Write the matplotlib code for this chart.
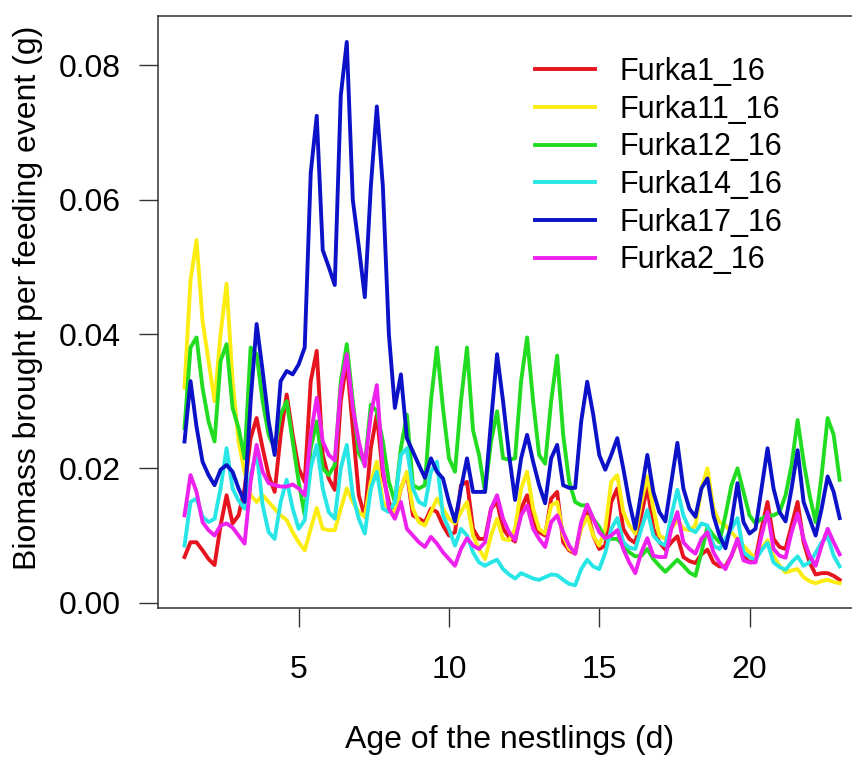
import numpy as np
import matplotlib
matplotlib.use("Agg")
import matplotlib.pyplot as plt

# age of the nestlings (d), one value every 0.2 d
age = np.round(np.arange(1.2, 23.01, 0.2), 1)

furka1 = [0.0068, 0.0090, 0.0090, 0.0078, 0.0065, 0.0056, 0.0115, 0.0160, 0.0118, 0.0130,
          0.0170, 0.0245, 0.0275, 0.0230, 0.0190, 0.0165, 0.0250, 0.0310, 0.0250, 0.0200,
          0.0180, 0.0330, 0.0375, 0.0220, 0.0185, 0.0168, 0.0300, 0.0360, 0.0260, 0.0160,
          0.0128, 0.0230, 0.0280, 0.0190, 0.0150, 0.0130, 0.0170, 0.0193, 0.0130, 0.0125,
          0.0120, 0.0140, 0.0135, 0.0115, 0.0100, 0.0105, 0.0175, 0.0180, 0.0110, 0.0095,
          0.0095, 0.0140, 0.0150, 0.0110, 0.0098, 0.0091, 0.0140, 0.0160, 0.0120, 0.0105,
          0.0100, 0.0155, 0.0165, 0.0090, 0.0078, 0.0073, 0.0115, 0.0138, 0.0100, 0.0080,
          0.0085, 0.0150, 0.0170, 0.0110, 0.0095, 0.0089, 0.0130, 0.0173, 0.0110, 0.0090,
          0.0079, 0.0090, 0.0099, 0.0068, 0.0062, 0.0059, 0.0072, 0.0079, 0.0060, 0.0054,
          0.0054, 0.0070, 0.0093, 0.0070, 0.0060, 0.0065, 0.0110, 0.0150, 0.0095, 0.0083,
          0.0080, 0.0115, 0.0150, 0.0090, 0.0060, 0.0042, 0.0044, 0.0044, 0.0040, 0.0034]

furka11 = [0.0320, 0.0480, 0.0540, 0.0420, 0.0360, 0.0300, 0.0400, 0.0475, 0.0330, 0.0240,
           0.0195, 0.0160, 0.0150, 0.0160, 0.0150, 0.0140, 0.0130, 0.0123, 0.0105, 0.0090,
           0.0078, 0.0110, 0.0141, 0.0110, 0.0108, 0.0108, 0.0140, 0.0170, 0.0150, 0.0135,
           0.0128, 0.0180, 0.0210, 0.0150, 0.0140, 0.0135, 0.0170, 0.0195, 0.0140, 0.0120,
           0.0115, 0.0135, 0.0155, 0.0140, 0.0125, 0.0118, 0.0135, 0.0150, 0.0100, 0.0080,
           0.0065, 0.0100, 0.0125, 0.0095, 0.0093, 0.0110, 0.0170, 0.0195, 0.0140, 0.0110,
           0.0103, 0.0145, 0.0150, 0.0100, 0.0080, 0.0075, 0.0110, 0.0128, 0.0100, 0.0085,
           0.0110, 0.0180, 0.0190, 0.0135, 0.0115, 0.0103, 0.0150, 0.0188, 0.0140, 0.0100,
           0.0095, 0.0110, 0.0123, 0.0110, 0.0108, 0.0115, 0.0170, 0.0200, 0.0140, 0.0120,
           0.0115, 0.0105, 0.0095, 0.0085, 0.0075, 0.0065, 0.0080, 0.0093, 0.0070, 0.0055,
           0.0045, 0.0048, 0.0050, 0.0038, 0.0032, 0.0029, 0.0032, 0.0034, 0.0031, 0.0029]

furka12 = [0.0260, 0.0380, 0.0395, 0.0320, 0.0270, 0.0240, 0.0360, 0.0385, 0.0290, 0.0260,
           0.0215, 0.0380, 0.0370, 0.0300, 0.0250, 0.0230, 0.0280, 0.0300, 0.0240, 0.0180,
           0.0130, 0.0230, 0.0270, 0.0200, 0.0190, 0.0205, 0.0330, 0.0385, 0.0300, 0.0223,
           0.0205, 0.0295, 0.0285, 0.0240, 0.0180, 0.0150, 0.0230, 0.0280, 0.0175, 0.0170,
           0.0175, 0.0300, 0.0380, 0.0290, 0.0215, 0.0195, 0.0300, 0.0380, 0.0257, 0.0220,
           0.0165, 0.0240, 0.0285, 0.0215, 0.0213, 0.0215, 0.0330, 0.0395, 0.0300, 0.0220,
           0.0207, 0.0300, 0.0368, 0.0250, 0.0180, 0.0150, 0.0145, 0.0145, 0.0125, 0.0113,
           0.0095, 0.0095, 0.0095, 0.0085, 0.0075, 0.0069, 0.0070, 0.0080, 0.0065, 0.0055,
           0.0046, 0.0055, 0.0064, 0.0055, 0.0045, 0.0040, 0.0075, 0.0113, 0.0100, 0.0090,
           0.0130, 0.0175, 0.0200, 0.0165, 0.0130, 0.0118, 0.0125, 0.0130, 0.0130, 0.0135,
           0.0160, 0.0205, 0.0272, 0.0210, 0.0160, 0.0120, 0.0190, 0.0275, 0.0250, 0.0183]

furka14 = [0.0085, 0.0150, 0.0155, 0.0128, 0.0120, 0.0125, 0.0170, 0.0230, 0.0170, 0.0152,
           0.0140, 0.0190, 0.0225, 0.0145, 0.0105, 0.0095, 0.0150, 0.0183, 0.0140, 0.0110,
           0.0123, 0.0200, 0.0235, 0.0170, 0.0135, 0.0125, 0.0200, 0.0235, 0.0160, 0.0125,
           0.0103, 0.0170, 0.0195, 0.0140, 0.0135, 0.0150, 0.0220, 0.0230, 0.0170, 0.0150,
           0.0145, 0.0195, 0.0210, 0.0130, 0.0110, 0.0085, 0.0110, 0.0100, 0.0075, 0.0060,
           0.0055, 0.0060, 0.0064, 0.0050, 0.0042, 0.0036, 0.0044, 0.0040, 0.0036, 0.0034,
           0.0038, 0.0042, 0.0041, 0.0034, 0.0028, 0.0026, 0.0050, 0.0064, 0.0054, 0.0050,
           0.0074, 0.0110, 0.0126, 0.0090, 0.0082, 0.0080, 0.0110, 0.0138, 0.0100, 0.0090,
           0.0085, 0.0130, 0.0168, 0.0130, 0.0110, 0.0105, 0.0118, 0.0115, 0.0085, 0.0080,
           0.0095, 0.0110, 0.0126, 0.0075, 0.0068, 0.0064, 0.0078, 0.0089, 0.0060, 0.0053,
           0.0049, 0.0060, 0.0069, 0.0055, 0.0060, 0.0074, 0.0090, 0.0099, 0.0070, 0.0054]

furka17 = [0.0240, 0.0330, 0.0262, 0.0210, 0.0190, 0.0175, 0.0198, 0.0205, 0.0195, 0.0170,
           0.0150, 0.0300, 0.0415, 0.0345, 0.0270, 0.0220, 0.0330, 0.0345, 0.0340, 0.0355,
           0.0380, 0.0640, 0.0725, 0.0525, 0.0500, 0.0473, 0.0755, 0.0835, 0.0600, 0.0530,
           0.0455, 0.0620, 0.0739, 0.0620, 0.0400, 0.0290, 0.0340, 0.0245, 0.0225, 0.0205,
           0.0186, 0.0215, 0.0195, 0.0185, 0.0150, 0.0121, 0.0170, 0.0215, 0.0165, 0.0165,
           0.0165, 0.0270, 0.0370, 0.0300, 0.0220, 0.0153, 0.0215, 0.0250, 0.0210, 0.0175,
           0.0148, 0.0215, 0.0235, 0.0175, 0.0171, 0.0171, 0.0270, 0.0329, 0.0280, 0.0220,
           0.0198, 0.0220, 0.0245, 0.0200, 0.0150, 0.0110, 0.0165, 0.0220, 0.0165, 0.0135,
           0.0121, 0.0180, 0.0238, 0.0170, 0.0140, 0.0128, 0.0170, 0.0185, 0.0130, 0.0100,
           0.0081, 0.0120, 0.0178, 0.0120, 0.0103, 0.0110, 0.0170, 0.0230, 0.0170, 0.0135,
           0.0121, 0.0170, 0.0227, 0.0150, 0.0125, 0.0100, 0.0140, 0.0188, 0.0165, 0.0126]

furka2 = [0.0130, 0.0190, 0.0165, 0.0120, 0.0108, 0.0100, 0.0115, 0.0118, 0.0112, 0.0100,
          0.0088, 0.0180, 0.0235, 0.0195, 0.0178, 0.0175, 0.0173, 0.0173, 0.0176, 0.0170,
          0.0160, 0.0250, 0.0305, 0.0240, 0.0220, 0.0212, 0.0320, 0.0370, 0.0290, 0.0240,
          0.0203, 0.0280, 0.0324, 0.0200, 0.0140, 0.0125, 0.0150, 0.0110, 0.0100, 0.0090,
          0.0083, 0.0098, 0.0088, 0.0075, 0.0065, 0.0055, 0.0080, 0.0096, 0.0085, 0.0080,
          0.0090, 0.0140, 0.0160, 0.0125, 0.0105, 0.0093, 0.0130, 0.0145, 0.0110, 0.0095,
          0.0083, 0.0120, 0.0130, 0.0105, 0.0085, 0.0073, 0.0120, 0.0146, 0.0125, 0.0105,
          0.0096, 0.0100, 0.0108, 0.0080, 0.0060, 0.0044, 0.0075, 0.0096, 0.0070, 0.0068,
          0.0068, 0.0110, 0.0135, 0.0090, 0.0080, 0.0073, 0.0095, 0.0105, 0.0075, 0.0060,
          0.0050, 0.0070, 0.0095, 0.0063, 0.0060, 0.0060, 0.0100, 0.0135, 0.0080, 0.0070,
          0.0067, 0.0105, 0.0133, 0.0095, 0.0070, 0.0055, 0.0085, 0.0110, 0.0090, 0.0072]

names = ["Furka1_16", "Furka11_16", "Furka12_16", "Furka14_16", "Furka17_16", "Furka2_16"]
colors = ["#e6141e", "#fbec12", "#22dc22", "#28e6e6", "#0c12c8", "#ee22ee"]

plt.rcParams["font.family"] = ["Liberation Sans", "DejaVu Sans"]

fig = plt.figure(figsize=(8.53, 7.58), dpi=100)
ax = fig.add_axes([0.1849, 0.1979, 0.828, 0.781])

series = [furka1, furka11, furka12, furka14, furka17, furka2]
for vals, name, col in zip(series, names, colors):
    ax.plot(age, vals, color=col, lw=2.8, label=name, solid_joinstyle="round")

ax.set_xlim(0.309, 23.81)
ax.set_ylim(-0.00079, 0.08737)
ax.set_xticks([5, 10, 15, 20])
ax.set_yticks([0.0, 0.02, 0.04, 0.06, 0.08])
ax.set_yticklabels(["0.00", "0.02", "0.04", "0.06", "0.08"])
ax.tick_params(axis="x", length=13.5, width=1.0, pad=20, labelsize=23, color="#333333")
ax.tick_params(axis="y", length=13.5, width=1.0, pad=13, labelsize=23, color="#333333")
for sp in ax.spines.values():
    sp.set_linewidth(1.1)
    sp.set_color("#333333")

fig.text(0.597, (758 - 740) / 758, "Age of the nestlings (d)", ha="center", va="center",
         fontsize=23)
fig.text(28 / 853, 1 - 298 / 758, "Biomass brought per feeding event (g)", ha="center",
         va="center", rotation=90, fontsize=23)

ax.legend(loc="upper left", bbox_to_anchor=(535 / 853, 1 - 57 / 758),
          bbox_transform=fig.transFigure, frameon=False, fontsize=22,
          handlelength=1.96, handletextpad=0.82, labelspacing=0.25,
          borderpad=0, borderaxespad=0)

fig.savefig("out.png", dpi=100)
